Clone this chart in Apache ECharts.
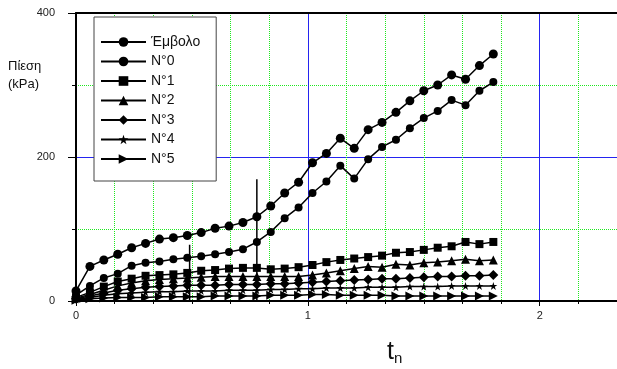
<!DOCTYPE html>
<html>
<head>
<meta charset="utf-8">
<script src="https://cdn.jsdelivr.net/npm/echarts@6/dist/echarts.min.js"></script>
<style>
  html, body { margin: 0; padding: 0; background: #fff; }
  #chart { width: 617px; height: 369px; }
</style>
</head>
<body>
<div id="chart"></div>
<script>
// time axis (tn), shared by all series
const tn = [0.00, 0.06, 0.12, 0.18, 0.24, 0.30, 0.36, 0.42, 0.48, 0.54, 0.60,
  0.66, 0.72, 0.78, 0.84, 0.90, 0.96, 1.02, 1.08, 1.14, 1.20, 1.26, 1.32, 1.38,
  1.44, 1.50, 1.56, 1.62, 1.68, 1.74, 1.80];

// pressures in kPa
const emvolo = [14, 48, 57, 65, 74, 80, 86, 88, 91, 95, 101, 104, 109, 117, 132,
  150, 165, 192, 205, 226, 212, 238, 248, 262, 278, 292, 300, 314, 308, 327, 343];
const n0 = [8, 21, 32, 38, 49, 53, 55, 58, 60, 62, 65, 68, 72, 82, 96, 115, 130,
  150, 166, 188, 170, 197, 214, 224, 240, 254, 264, 279, 272, 292, 304];
const n1 = [5, 12, 20, 27, 31, 35, 36, 37, 39, 42, 43, 45, 46, 46, 44, 45, 47, 50,
  54, 57, 59, 61, 63, 67, 68, 71, 74, 76, 82, 79, 82];
const n2 = [4, 9, 15, 21, 25, 28, 30, 31, 32, 33, 34, 34, 34, 34, 34, 34, 34, 36,
  39, 42, 45, 48, 47, 51, 50, 53, 54, 56, 58, 56, 57];
const n3 = [3, 7, 11, 15, 17, 19, 20, 21, 22, 22, 22, 23, 23, 23, 24, 24, 25, 26,
  27, 28, 29, 30, 31, 31, 32, 33, 34, 34, 35, 35, 36];
const n4 = [2, 5, 8, 10, 11, 12, 13, 13, 14, 14, 14, 15, 15, 15, 16, 16, 17, 17,
  18, 18, 18, 19, 19, 19, 20, 20, 20, 21, 21, 21, 21];
const n5 = [1, 3, 4, 5, 5, 5, 6, 6, 6, 6, 7, 7, 7, 7, 8, 8, 8, 9, 9, 8, 8, 8, 8,
  7, 7, 7, 7, 7, 7, 7, 7];

// isolated vertical spikes in the record
const spikeT = [0.49, 0.78];
const spikeTop = [78, 169];

const seriesNames = ['Έμβολο', 'N°0', 'N°1', 'N°2', 'N°3', 'N°4', 'N°5'];
const seriesValues = [emvolo, n0, n1, n2, n3, n4, n5];

const starPath = 'path://M5,0L6.2,3.6L10,3.6L6.9,5.9L8.1,9.5L5,7.3L1.9,9.5L3.1,5.9L0,3.6L3.8,3.6Z';
const arrowPath = 'path://M0,0L10,5L0,10Z';
const symbols = ['circle', 'circle', 'rect', 'triangle', 'diamond', starPath, arrowPath];
const symbolSizes = [9, 8, 8, 9, 10, 8, 9];

const blue = '#2424f0';
const green = '#1ee81e';

let chart = echarts.init(document.getElementById('chart'));

let series = seriesValues.map((vals, i) => ({
  name: seriesNames[i],
  type: 'line',
  data: tn.map((t, k) => [t, vals[k]]),
  symbol: symbols[i],
  symbolSize: symbolSizes[i],
  showAllSymbol: true,
  lineStyle: { color: '#000', width: 1.5 },
  itemStyle: { color: '#000' },
  animation: false,
  z: 3
}));

let spikeData = [];
spikeT.forEach((t, i) => {
  spikeData.push([t, 0], [t, spikeTop[i]], [t, '-']);
});
series.push({
  name: 'spike',
  type: 'line',
  data: spikeData,
  symbol: 'none',
  lineStyle: { color: '#000', width: 1.5 },
  animation: false,
  z: 3
});

chart.setOption({
  animation: false,
  textStyle: { fontFamily: 'Liberation Sans, Arial, sans-serif' },
  title: [
    {
      text: 'Πίεση\n(kPa)',
      left: 3,
      top: 52,
      textStyle: { fontSize: 13, fontWeight: 'normal', color: '#111', lineHeight: 18 }
    },
    {
      text: '{t|t}{n|n}',
      left: 382,
      top: 334,
      textStyle: {
        fontWeight: 'normal',
        rich: {
          t: { fontSize: 25, fontWeight: 'normal', color: '#111', fontFamily: 'Liberation Sans Narrow, Liberation Sans, Arial' },
          n: { fontSize: 15, fontWeight: 'normal', color: '#111', verticalAlign: 'bottom', padding: [12, 0, 0, 0], fontFamily: 'Liberation Sans Narrow, Liberation Sans, Arial' }
        }
      }
    }
  ],
  legend: {
    data: seriesNames,
    orient: 'vertical',
    left: 94,
    top: 17,
    padding: [18, 16, 15, 6],
    itemWidth: 45,
    itemHeight: 12,
    itemGap: 5.5,
    backgroundColor: '#fff',
    borderColor: '#444',
    borderWidth: 1,
    lineStyle: { width: 2 },
    textStyle: { fontSize: 14, color: '#111' }
  },
  grid: {
    left: 76,
    top: 13,
    width: 546,
    height: 288,
    show: false
  },
  xAxis: [
    {
      type: 'value',
      min: 0,
      max: 7 / 3,
      interval: 1,
      axisLine: { lineStyle: { color: '#000', width: 2 } },
      axisTick: { length: 5, lineStyle: { color: '#000' } },
      minorTick: { show: true, splitNumber: 6, length: 3, lineStyle: { color: '#000' } },
      splitLine: { show: true, showMinLine: false, showMaxLine: false, lineStyle: { color: blue, width: 1 } },
      minorSplitLine: { show: true, lineStyle: { color: green, type: [1, 1], width: 1 } },
      axisLabel: { fontSize: 11, color: '#222', margin: 9, showMaxLabel: false }
    },
    {
      type: 'value',
      position: 'top',
      min: 0,
      max: 7 / 3,
      axisLine: { show: true, onZero: false, lineStyle: { color: '#000', width: 2 } },
      axisTick: { show: false },
      axisLabel: { show: false },
      splitLine: { show: false }
    }
  ],
  yAxis: {
    type: 'value',
    min: 0,
    max: 400,
    interval: 200,
    axisLine: { show: true, lineStyle: { color: '#000', width: 2 } },
    axisTick: { length: 8, lineStyle: { color: '#000' } },
    minorTick: { show: true, splitNumber: 2, length: 4, lineStyle: { color: '#000' } },
    splitLine: { show: true, showMinLine: false, showMaxLine: false, lineStyle: { color: blue, width: 1 } },
    minorSplitLine: { show: true, lineStyle: { color: green, type: [1, 1], width: 1 } },
    axisLabel: { fontSize: 11, color: '#222', margin: 21 }
  },
  series: series
});
</script>
</body>
</html>
